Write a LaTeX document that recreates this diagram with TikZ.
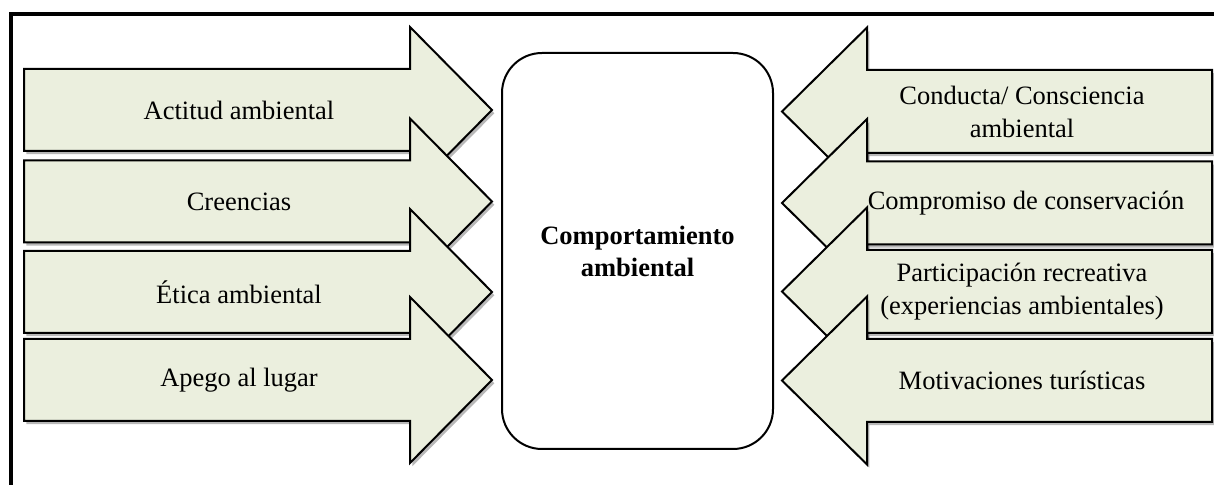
\documentclass[tikz,border=0pt]{standalone}
\usepackage{fontspec}
\setmainfont{Liberation Serif}
\usetikzlibrary{shadows}
\definecolor{arrowfill}{RGB}{235,239,222}
\begin{document}
\begin{tikzpicture}[x=0.5pt,y=-0.5pt,
  arrowshape/.style={draw=black, line width=1pt, fill=arrowfill, line join=miter,
    drop shadow={shadow xshift=1.2pt, shadow yshift=-1.6pt, opacity=0.28, fill=black}},
  labeltext/.style={font=\fontsize{13.25}{16.5}\selectfont, align=center, inner sep=0pt},
  centerbox/.style={draw=black, line width=1pt, rounded corners=20pt, fill=white,
    minimum width=135.5pt, minimum height=198pt, align=center,
    font=\fontsize{13.25}{16}\selectfont\bfseries},
  frameline/.style={line width=1.6pt}]
\useasboundingbox (0,0) rectangle (1214,485);
\draw[frameline] (11,485) -- (11,14) -- (1214,14);
% left arrows
\foreach \c in {110,201.5,292,380} {
  \path[arrowshape] (24,\c-41) -- (410,\c-41) -- (410,\c-83) -- (492,\c)
    -- (410,\c+83) -- (410,\c+41) -- (24,\c+41) -- cycle;
}
% right arrows
\foreach \c in {111.5,203,291.5,380.5} {
  \path[arrowshape] (1212,\c-41.5) -- (867,\c-41.5) -- (867,\c-84) -- (782,\c)
    -- (867,\c+84) -- (867,\c+41.5) -- (1212,\c+41.5) -- cycle;
}
\node[centerbox] (center) at (637.5,251) {Comportamiento\\ambiental};
\node[labeltext] (l1) at (239,110) {Actitud ambiental};
\node[labeltext] (l2) at (239,201.5) {Creencias};
\node[labeltext] (l3) at (239,292) {Ética ambiental};
\node[labeltext] (l4) at (239,380) {Apego al lugar};
\node[labeltext] (r1) at (1022,111.5) {Conducta/ Consciencia\\ambiental};
\node[labeltext] (r2) at (1026,203) {Compromiso de conservación};
\node[labeltext] (r3) at (1022,291.5) {Participación recreativa\\(experiencias ambientales)};
\node[labeltext] (r4) at (1022,380.5) {Motivaciones turísticas};
\end{tikzpicture}
\end{document}
